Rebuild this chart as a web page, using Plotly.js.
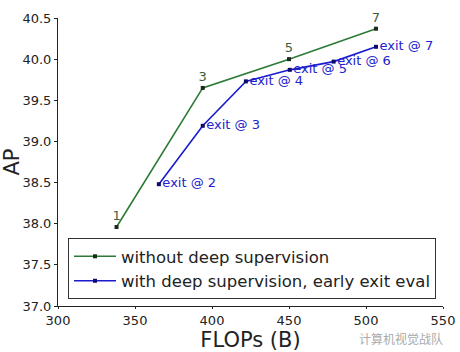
<!DOCTYPE html>
<html>
<head>
<meta charset="utf-8">
<script src="https://cdn.plot.ly/plotly-3.0.1.min.js"></script>
<style>html,body{margin:0;padding:0;background:#fff;}#chart{width:460px;height:352px;}</style>
</head>
<body>
<div id="chart"></div>
<script>
// Data
const flopsNoDS = [338, 394, 450, 506.5];
const apNoDS = [37.96, 39.65, 40.0, 40.37];
const labelsNoDS = ["1", "3", "5", "7"];

const flopsDS = [365.5, 394, 422, 450.5, 479, 506.5];
const apDS = [38.48, 39.19, 39.73, 39.87, 39.97, 40.15];
const labelsDS = ["exit @ 2", "exit @ 3", "exit @ 4", "exit @ 5", "exit @ 6", "exit @ 7"];

const seriesNames = ["without deep supervision", "with deep supervision, early exit eval"];
const xTicks = [300, 350, 400, 450, 500, 550];
const yTicks = [37.0, 37.5, 38.0, 38.5, 39.0, 39.5, 40.0, 40.5];

const FONT = "DejaVu Sans, sans-serif";

const traces = [
  {
    x: flopsNoDS, y: apNoDS, text: labelsNoDS,
    type: "scatter", mode: "lines+markers+text",
    name: seriesNames[0],
    line: {color: "#2b7a35", width: 1.6},
    marker: {symbol: "square", size: 4, color: "#1c2a1c"},
    textposition: "top center",
    textfont: {family: FONT, size: 13, color: "#3d5e3d"},
    cliponaxis: false
  },
  {
    x: flopsDS, y: apDS, text: labelsDS,
    type: "scatter", mode: "lines+markers+text",
    name: seriesNames[1],
    line: {color: "#1a1ad0", width: 1.6},
    marker: {symbol: "square", size: 4, color: "#0c0c70"},
    textposition: "middle right",
    textfont: {family: FONT, size: 13, color: "#2222cc"},
    cliponaxis: false
  }
];

const layout = {
  width: 460, height: 352,
  margin: {l: 58, r: 17, t: 18, b: 46},
  paper_bgcolor: "#fff", plot_bgcolor: "#fff",
  font: {family: FONT, size: 13, color: "#222"},
  showlegend: true,
  legend: {
    x: 0.026, y: 0.024, xanchor: "left", yanchor: "bottom",
    bgcolor: "#fff", bordercolor: "#333", borderwidth: 1,
    font: {family: FONT, size: 16.5, color: "#222"},
    itemwidth: 42,
    tracegroupgap: 0
  },
  xaxis: {
    range: [300, 550], tickvals: xTicks, ticktext: xTicks.map(String),
    showgrid: false, zeroline: false, showline: true, linecolor: "#222", linewidth: 1,
    ticks: "outside", ticklen: 2, tickcolor: "#222",
    tickfont: {family: FONT, size: 13, color: "#222"},
    title: {text: "FLOPs (B)", font: {family: FONT, size: 21, color: "#222"}, standoff: 2}
  },
  yaxis: {
    range: [37.0, 40.5], tickvals: yTicks, ticktext: yTicks.map(v => v.toFixed(1)),
    showgrid: false, zeroline: false, showline: true, linecolor: "#222", linewidth: 1,
    ticks: "outside", ticklen: 3, tickcolor: "#222",
    tickfont: {family: FONT, size: 13, color: "#222"},
    title: {text: "AP", font: {family: FONT, size: 21, color: "#222"}, standoff: 10}
  },
  annotations: [
    {text: "计算机视觉战队", xref: "paper", yref: "paper", x: 1.005, y: -0.112,
     xanchor: "right", yanchor: "middle", showarrow: false,
     font: {family: "Noto Sans CJK SC", size: 12, color: "#aaa"}}
  ]
};

Plotly.newPlot("chart", traces, layout, {displayModeBar: false, staticPlot: true});
</script>
</body>
</html>
